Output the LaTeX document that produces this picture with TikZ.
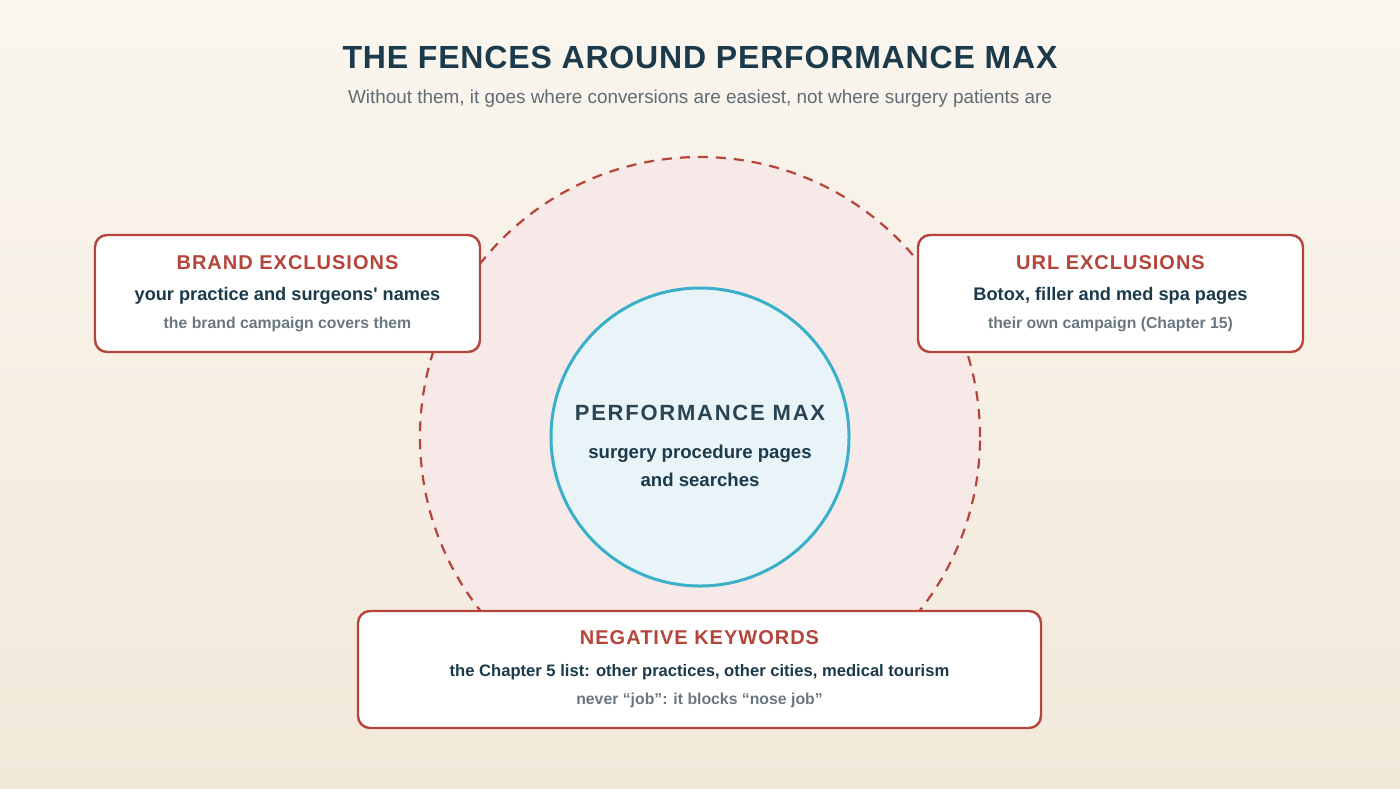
\documentclass[tikz,border=0pt]{standalone}
\usepackage{fontspec}
\setmainfont{Liberation Sans}
\usetikzlibrary{positioning}
\definecolor{ink}{HTML}{1B3A4B}
\definecolor{fence}{HTML}{B5443A}
\definecolor{greytext}{HTML}{6B7780}
\definecolor{teal}{HTML}{3AAFC9}
\tikzset{
  fencebox/.style={draw=fence, line width=1.2pt, fill=white, rounded corners=6pt, minimum height=58.5pt},
  head/.style={text=fence, font=\bfseries\fontsize{10}{12}\selectfont\addfontfeatures{LetterSpace=5}},
  body/.style={text=ink, font=\bfseries\fontsize{9.1}{11}\selectfont},
  note/.style={text=greytext, font=\bfseries\fontsize{7.9}{9}\selectfont}
}
\begin{document}
\begin{tikzpicture}[x=0.5pt,y=-0.5pt]
  \useasboundingbox (0,0) rectangle (1400,788);
  \shade[top color={rgb,255:red,250;green,246;blue,238}, bottom color={rgb,255:red,242;green,232;blue,218}] (0,0) rectangle (1400,788);
  % title
  \node[text=ink, font=\bfseries\fontsize{16}{18}\selectfont\addfontfeatures{LetterSpace=2.6}] (title) at (700,57) {THE FENCES AROUND PERFORMANCE MAX};
  \node[text=greytext!90!black, font=\fontsize{9.45}{11}\selectfont] (subtitle) at (700,99) {Without them, it goes where conversions are easiest, not where surgery patients are};
  % fence ring
  \fill[fence!12] (700,437) circle[radius=140pt];
  \draw[fence, line width=1.1pt, dash pattern=on 5pt off 4pt] (700,437) circle[radius=140pt];
  % core
  \node[circle, draw=teal, line width=1.5pt, fill={rgb,255:red,232;green,244;blue,248}, minimum size=149pt] (core) at (700,437) {};
  \node[text=ink!85!gray, font=\bfseries\fontsize{11}{13}\selectfont\addfontfeatures{LetterSpace=8}] (corehead) at (700,413) {PERFORMANCE MAX};
  \node[body, font=\bfseries\fontsize{9.3}{11}\selectfont, align=center] (corebody) at (700,466) {surgery procedure pages\\[3pt]and searches};
  % boxes
  \node[fencebox, minimum width=192.5pt] (brand) at (287.5,293.5) {};
  \node[head] at (287.5,263) {BRAND EXCLUSIONS};
  \node[body] at (287.5,296) {your practice and surgeons\textquotesingle{} names};
  \node[note] at (287.5,324) {the brand campaign covers them};
  \node[fencebox, minimum width=192.5pt] (url) at (1110.5,293.5) {};
  \node[head] at (1110.5,263) {URL EXCLUSIONS};
  \node[body] at (1110.5,296) {Botox, filler and med spa pages};
  \node[note] at (1110.5,324) {their own campaign (Chapter 15)};
  \node[fencebox, minimum width=341.5pt] (negative) at (699.5,669.5) {};
  \node[head] at (699.5,638) {NEGATIVE KEYWORDS};
  \node[body, font=\bfseries\fontsize{8.3}{10}\selectfont] at (699.5,672) {the Chapter 5 list: other practices, other cities, medical tourism};
  \node[note] at (699.5,700) {never “job”: it blocks “nose job”};
\end{tikzpicture}
\end{document}
